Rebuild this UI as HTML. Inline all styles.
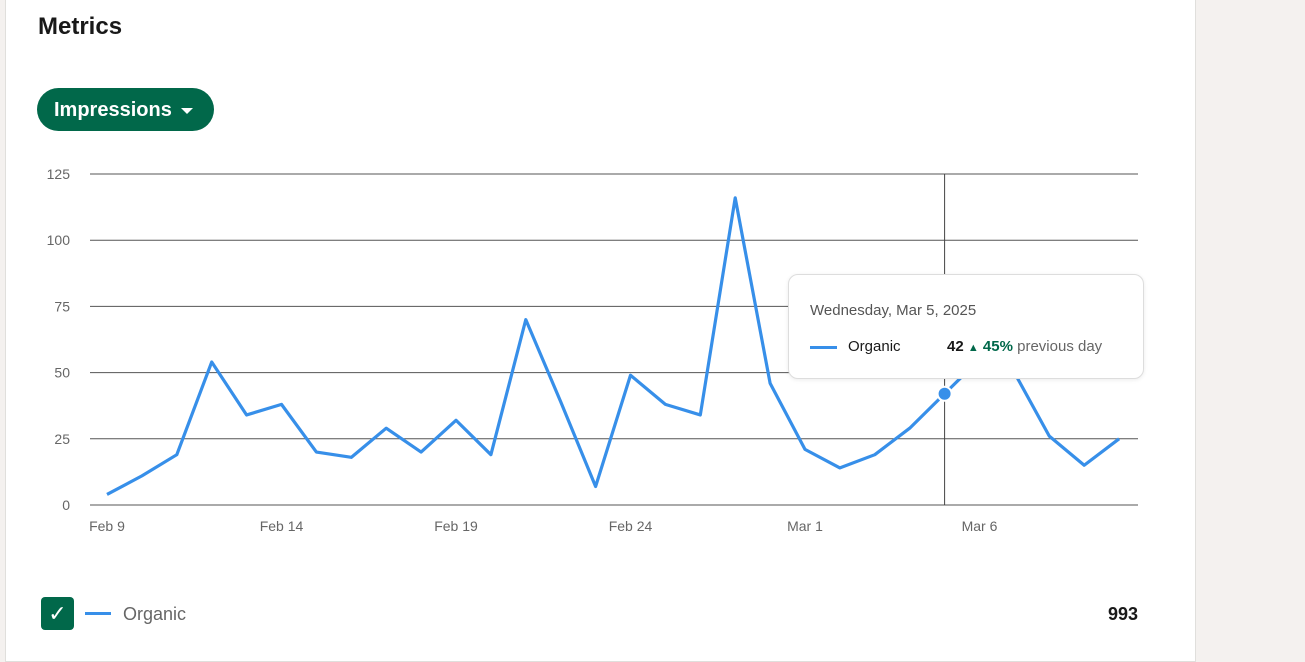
<!DOCTYPE html>
<html><head><meta charset="utf-8"><style>
body{margin:0;width:1305px;height:642px;overflow:hidden;background:#f4f1ef;font-family:"Liberation Sans",sans-serif;}
#card{position:absolute;left:5px;top:-10px;width:1189px;height:670px;background:#fff;border:1px solid #e0dfdc;}
h1{position:absolute;left:38px;top:13px;margin:0;font-size:24px;font-weight:600;color:#191919;}
#btn{position:absolute;left:37px;top:88px;width:177px;height:43px;border-radius:22px;background:#01684a;color:#fff;font-size:20px;font-weight:bold;line-height:45px;box-sizing:border-box;padding-left:17px;}
#btn i{position:absolute;left:144px;top:20px;width:0;height:0;border-left:6px solid transparent;border-right:6px solid transparent;border-top:6px solid #fff;}
#tip{position:absolute;left:788px;top:274px;width:354px;height:103px;background:#fff;border:1px solid #ddd;border-radius:10px;box-shadow:0 1px 4px rgba(0,0,0,.08);font-size:15px;color:#555;}
</style></head><body>
<div id="card"></div>
<h1>Metrics</h1>
<div id="btn">Impressions<i></i></div>
<svg id="chart" width="1305" height="642" style="position:absolute;left:0;top:0"></svg>
<div id="tip">
<div style="position:absolute;left:21px;top:27px">Wednesday, Mar 5, 2025</div>
<div style="position:absolute;left:21px;top:71px;width:27px;height:3px;background:#378fe9"></div>
<div style="position:absolute;left:59px;top:63px;color:#191919">Organic</div>
<div style="position:absolute;left:158px;top:63px;color:#191919;font-weight:bold">42 <span style="color:#01684a;font-size:11px">▲</span> <span style="color:#01684a">45%</span> <span style="color:#666;font-weight:normal">previous day</span></div>
</div>
<div style="position:absolute;left:41px;top:597px;width:33px;height:33px;background:#01684a;border-radius:4px;color:#fff;font-size:22px;text-align:center;line-height:33px">✓</div>
<div style="position:absolute;left:85px;top:612px;width:26px;height:3px;background:#378fe9"></div>
<div style="position:absolute;left:123px;top:604px;font-size:18px;color:#666">Organic</div>
<div style="position:absolute;left:1108px;top:604px;font-size:18px;font-weight:bold;color:#191919">993</div>
<script>
const values=[4,11,19,54,34,38,20,18,29,20,32,19,70,39,7,49,38,34,116,46,21,14,19,29,42,55,50,26,15,25];
const yTicks=[0,25,50,75,100,125];
const xLabels=["Feb 9","Feb 14","Feb 19","Feb 24","Mar 1","Mar 6"];
const hoverIndex=24;
const svg=document.getElementById('chart');const NS='http://www.w3.org/2000/svg';
const x=i=>107+i*34.9, y=v=>505-v*(331/125);
function mk(t,a){const e=document.createElementNS(NS,t);for(const k in a)e.setAttribute(k,a[k]);svg.appendChild(e);return e;}
yTicks.forEach(v=>{const l=mk('line',{x1:90,x2:1138,y1:y(v),y2:y(v),stroke:'#555','stroke-width':1});

const t=mk('text',{x:70,y:y(v)+5,'text-anchor':'end','font-size':14,fill:'#666'});t.textContent=v;
});
xLabels.forEach((s,i)=>{const t=mk('text',{x:x(i*5),y:531,'text-anchor':'middle','font-size':14,fill:'#666'});t.textContent=s;
});
const vl=mk('line',{x1:x(hoverIndex),x2:x(hoverIndex),y1:174,y2:505,stroke:'#444'});

const p=mk('polyline',{points:values.map((v,i)=>x(i)+','+y(v)).join(' '),fill:'none',stroke:'#378fe9','stroke-width':3.2,'stroke-linejoin':'round'});

const c=mk('circle',{cx:x(hoverIndex),cy:y(values[hoverIndex]),r:7,fill:'#378fe9',stroke:'#fff','stroke-width':2});

</script>
</body></html>
